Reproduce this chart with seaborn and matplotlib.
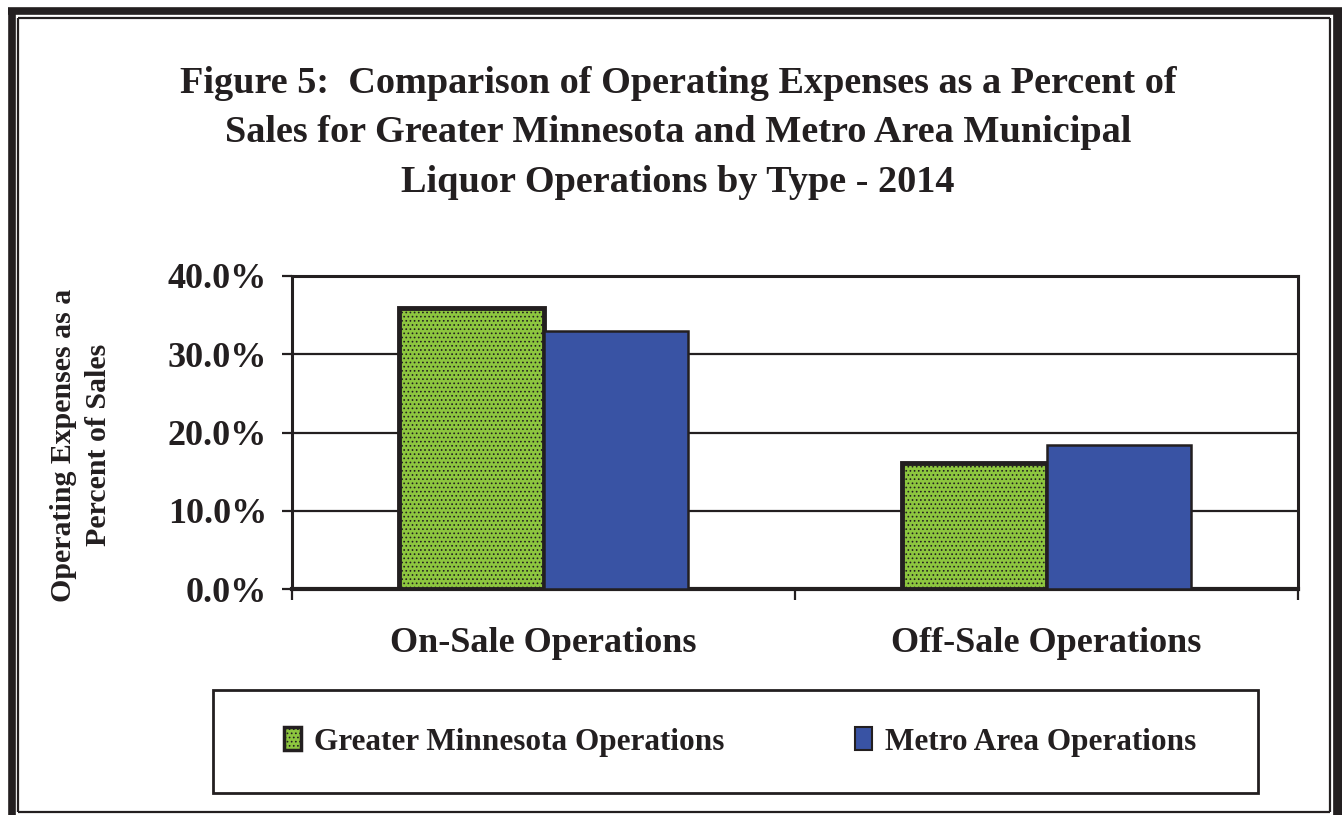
import numpy as np
import pandas as pd
import seaborn as sns
import matplotlib.pyplot as plt
from matplotlib.lines import Line2D
from matplotlib.patches import Patch, Rectangle

# values (percent of sales)
categories = ["On-Sale Operations", "Off-Sale Operations"]
series = ["Greater Minnesota Operations", "Metro Area Operations"]
greater_mn = [35.9, 16.1]
metro = [33.0, 18.4]
y_ticks = [0, 10, 20, 30, 40]

GREEN = "#8DC63F"
BLUE = "#3953A4"
DARK = "#231f20"
W, H = 1342, 815

df = pd.DataFrame({
    "category": categories * 2,
    "series": [series[0]] * 2 + [series[1]] * 2,
    "value": greater_mn + metro,
})

sns.set_theme(style="white")
plt.rcParams['font.family'] = ['Liberation Serif', 'DejaVu Serif']
plt.rcParams['font.weight'] = 'bold'
plt.rcParams['hatch.color'] = '#9696a6'
plt.rcParams['hatch.linewidth'] = 0.7


def fx(px):
    return px / W


def fy(py):
    return 1 - py / H


fig = plt.figure(figsize=(W / 100, H / 100), dpi=100)
ax = fig.add_axes([fx(292), fy(589), fx(1298) - fx(292), fy(276) - fy(589)])

sns.barplot(data=df, x="category", y="value", hue="series", order=categories,
            hue_order=series, palette=[GREEN, BLUE], width=0.575,
            saturation=1, legend=False, ax=ax)

n = len(categories)
for i, bar in enumerate(ax.patches):
    bar.set_edgecolor(DARK)
    if i < n:
        bar.set_hatch("....")
        bar.set_linewidth(3.5)
    else:
        bar.set_linewidth(1.8)
    bar.set_zorder(3)

ax.set_ylim(0, 40)
ax.set_xlim(-0.5, n - 0.5)
ax.set_yticks(y_ticks)
ax.set_yticklabels([f"{v:.1f}%" for v in y_ticks], fontsize=26, fontweight='bold')
ax.yaxis.grid(True, color=DARK, linewidth=1.6, zorder=0)
ax.set_axisbelow(True)
ax.tick_params(axis='y', length=7, width=1.6, color=DARK, pad=11, left=True,
               labelcolor=DARK)
ax.tick_params(axis='x', length=0, pad=27, labelsize=26, labelcolor=DARK)
for lab in ax.get_xticklabels():
    lab.set_fontweight('bold')
ax.set_xticks(np.arange(-0.5, n, 1.0), minor=True)
ax.tick_params(axis='x', which='minor', length=8, width=1.6, color=DARK, bottom=True)
ax.set_xlabel("")
ax.set_ylabel("")
for side in ["top", "right", "left", "bottom"]:
    ax.spines[side].set_visible(True)
    ax.spines[side].set_color(DARK)
    ax.spines[side].set_linewidth(2.2)
ax.spines["bottom"].set_linewidth(3)

# title and y label
fig.text(fx(678), fy(133),
         "Figure 5:  Comparison of Operating Expenses as a Percent of\n"
         "Sales for Greater Minnesota and Metro Area Municipal\n"
         "Liquor Operations by Type - 2014",
         ha='center', va='center', fontsize=27.5, fontweight='bold',
         linespacing=1.52, color=DARK)
fig.text(fx(81), fy(445), "Operating Expenses as a\nPercent of Sales",
         rotation=90, ha='center', va='center', fontsize=21.5,
         fontweight='bold', linespacing=1.4, color=DARK)

# legend box
fig.add_artist(Rectangle((fx(213), fy(793)), fx(1258) - fx(213), fy(690) - fy(793),
                         transform=fig.transFigure, fill=False,
                         edgecolor=DARK, linewidth=2))
handles = [Patch(facecolor=GREEN, edgecolor=DARK, hatch="....", linewidth=2.5),
           Patch(facecolor=BLUE, edgecolor=DARK, linewidth=1.5)]
fig.legend(handles, series, loc='center', bbox_to_anchor=(fx(740), fy(742)),
           ncol=2, frameon=False, handlelength=0.55, handleheight=0.75,
           handletextpad=0.4, columnspacing=4.2,
           prop={'weight': 'bold', 'size': 22.5}, labelcolor=DARK)

# page frame: thick outer border with thin inner rule
frame = [
    ([8, 1342], [10.5, 10.5], 5.5),
    ([11.5, 11.5], [8, 815], 5.5),
    ([1337.5, 1337.5], [8, 815], 7),
    ([18, 1330], [18, 18], 1.6),
    ([18, 18], [18, 812], 1.6),
    ([1330, 1330], [18, 812], 1.6),
    ([18, 1330], [811.5, 811.5], 1.6),
]
for xs, ys, lw in frame:
    fig.add_artist(Line2D([fx(v) for v in xs], [fy(v) for v in ys], color=DARK,
                          lw=lw, solid_capstyle='butt', transform=fig.transFigure))

fig.savefig("out.png", dpi=100, facecolor="white")
